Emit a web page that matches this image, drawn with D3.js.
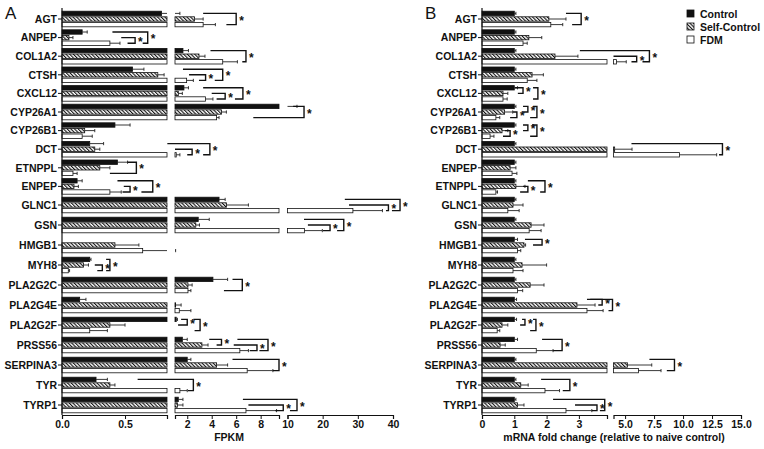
<!DOCTYPE html>
<html><head><meta charset="utf-8">
<script src="https://cdn.jsdelivr.net/npm/d3@7"></script>
<style>body{margin:0;background:#fff} text{font-family:"Liberation Sans",Arial,sans-serif}</style>
</head><body><svg id="c" width="764" height="449"></svg>
<script>
const seriesNames = ["Control", "Self-Control", "FDM"];

// ---- Panel A (FPKM) ----
const genesA = ["AGT","ANPEP","COL1A2","CTSH","CXCL12","CYP26A1","CYP26B1","DCT","ETNPPL","ENPEP","GLNC1","GSN","HMGB1","MYH8","PLA2G2C","PLA2G4E","PLA2G2F","PRSS56","SERPINA3","TYR","TYRP1"];
const controlA    = [0.79,0.16,1.65,0.56,1.73,9.8,0.42,0.22,0.44,0.12,4.6,2.9,0,0.22,4.1,0.14,1.1,1.6,2.0,0.27,1.27];
const controlErrA = [1.4,0.2,2.1,0.65,2.1,12.7,0.54,0.33,0.52,0.16,5.1,3.8,0,0.23,5.3,0.19,1.2,2.0,2.3,0.36,1.65];
const selfA       = [2.6,0.055,2.96,0.76,1.27,4.8,0.18,0.26,0.30,0.095,5.2,2.7,0.42,0.17,2.06,1.05,0.38,3.2,4.4,0.38,1.2];
const selfErrA    = [3.3,0.087,3.45,0.81,1.6,5.2,0.26,0.30,0.38,0.13,7.0,3.0,0.61,0.21,2.4,1.5,0.5,3.7,5.3,0.42,1.65];
const fdmA        = [3.3,0.38,4.9,1.95,3.5,4.4,0.16,1.1,0.087,0.38,28.6,14.8,0.64,0.05,2.06,1.35,0.22,6.3,6.9,1.4,6.8];
const fdmErrA     = [4.3,0.46,6.1,2.5,4.1,4.6,0.24,1.4,0.12,0.47,37,19.9,1.05,0.06,2.3,2.3,0.36,7.0,9.0,2.0,9.3];
// [gene, seriesFrom, seriesTo, armFrom, armTo, bracketValue]
const bracketsA = [
  ["AGT",0,2,3.3,5.2,6.0],
  ["ANPEP",1,2,0.47,0.52,0.58],["ANPEP",0,2,0.40,0.64,0.68],
  ["COL1A2",0,2,3.9,6.5,6.8],
  ["CTSH",1,2,2.15,2.96,3.5],["CTSH",0,2,1.65,4.25,4.9],
  ["CXCL12",1,2,4.0,4.4,5.1],["CXCL12",0,2,3.3,5.9,6.55],
  ["CYP26A1",0,2,11.6,7.4,14.7],
  ["DCT",1,2,1.0,2.0,2.4],["DCT",0,2,0.84,3.3,3.85],
  ["ETNPPL",0,2,0.52,0.38,0.59],
  ["ENPEP",0,2,0.44,0.63,0.72],["ENPEP",1,2,0.49,0.48,0.54],
  ["GLNC1",1,2,27.5,38,38.7],["GLNC1",0,2,26.3,39.7,42],
  ["GSN",0,2,14.7,24.1,26],["GSN",1,2,15.8,20.1,22.1],
  ["MYH8",1,2,0.26,0.28,0.32],["MYH8",0,2,0.35,0.35,0.38],
  ["PLA2G2C",0,2,5.7,5.0,6.5],
  ["PLA2G2F",0,1,1.5,1.25,2.0],["PLA2G2F",0,2,2.5,2.6,3.05],
  ["PRSS56",0,1,3.8,4.4,4.8],["PRSS56",0,2,6.1,7.9,8.6],["PRSS56",1,2,5.8,7.1,7.7],
  ["SERPINA3",0,2,5.7,9.0,9.5],
  ["TYR",0,2,0.6,2.06,2.5],
  ["TYRP1",0,2,6.55,10.7,12.7],["TYRP1",1,2,7.0,9.2,9.75]
];
const ticksA1 = [0, 0.5], ticksA2 = [2, 4, 6, 8], ticksA3 = [10, 20, 30, 40];

// ---- Panel B (fold change) ----
const genesB = ["AGT","ANPEP","COL1A2","CTSH","CXCL12","CYP26A1","CYP26B1","DCT","ENPEP","ETNPPL","GLNC1","GSN","HMGB1","MYH8","PLA2G2C","PLA2G4E","PLA2G2F","PRSS56","SERPINA3","TYR","TYRP1"];
const controlB    = [1,1,1,1,1,1,1,1,1,1,1,1,1,1,1,1,1,1,1,1,1];
const controlErrB = [1.05,1.05,1.05,1.05,1.1,1.05,1.05,1.05,1.05,1.05,1.05,1.05,1.1,1.05,1.05,1.07,1.07,1.1,1.05,1.05,1.05];
const selfB       = [2.07,1.45,2.26,1.55,0.65,0.7,0.62,4.1,0.87,1.05,0.96,1.52,1.3,1.24,1.49,2.94,0.62,0.56,5.2,1.2,1.1];
const selfErrB    = [2.6,1.85,2.97,1.9,0.8,0.95,0.8,5.6,1.05,1.33,1.27,1.92,1.35,2.0,1.92,3.5,0.8,0.72,7.3,1.43,1.3];
const fdmB        = [2.13,1.27,4.26,1.4,0.65,0.43,0.25,9.7,0.93,0.43,0.8,1.46,1.1,0.96,1.1,3.25,0.47,1.68,6.15,1.95,2.6];
const fdmErrB     = [2.5,1.4,5.1,1.7,0.78,0.55,0.37,12.9,1.08,0.48,1.15,1.83,1.2,1.27,1.26,3.75,0.55,2.2,8.1,2.4,3.4];
const bracketsB = [
  ["AGT",0,2,2.6,2.79,3.07],
  ["COL1A2",0,2,3.03,6.5,7.1],["COL1A2",1,2,4.0,5.55,6.0],
  ["CXCL12",0,1,1.02,1.11,1.27],["CXCL12",0,2,1.58,1.58,1.73],
  ["CYP26A1",0,1,1.27,1.27,1.42],["CYP26A1",1,2,0.96,0.87,1.08],["CYP26A1",0,2,1.58,1.49,1.7],
  ["CYP26B1",0,1,1.27,1.27,1.42],["CYP26B1",1,2,0.71,0.65,0.87],["CYP26B1",0,2,1.55,1.49,1.7],
  ["DCT",0,2,5.55,13.1,13.4],
  ["ETNPPL",1,2,1.27,1.18,1.42],["ETNPPL",0,2,1.42,1.8,1.95],
  ["HMGB1",0,1,1.33,1.58,1.86],
  ["PLA2G4E",0,1,3.25,3.6,3.72],["PLA2G4E",0,2,3.35,3.9,3.98],
  ["PLA2G2F",0,1,1.24,1.18,1.33],["PLA2G2F",0,2,1.58,1.49,1.67],
  ["PRSS56",0,2,1.86,2.2,2.48],
  ["SERPINA3",0,2,7.1,8.6,9.26],
  ["TYR",0,2,1.83,2.5,2.72],
  ["TYRP1",0,2,2.2,3.65,3.8],["TYRP1",1,2,2.88,3.4,3.56]
];
const ticksB1 = [0, 1, 2, 3], ticksB2 = [5, 7.5, 10, 12.5, 15];

// ---------------- drawing ----------------
const svg = d3.select("#c");
const defs = svg.append("defs");
const pat = defs.append("pattern").attr("id","hatch").attr("patternUnits","userSpaceOnUse")
  .attr("width",2.6).attr("height",2.6).attr("patternTransform","rotate(-45)");
pat.append("rect").attr("width",2.6).attr("height",2.6).attr("fill","#fff");
pat.append("rect").attr("width",1.1).attr("height",2.6).attr("fill","#111");

const fills = ["#111","url(#hatch)","#fff"];
const AXIS_Y = 415;
const barOff = [-5.6, 0, 5.6], barH = 4.4;
const rowY = d3.scaleLinear().domain([0,10,20]).range([19,205,405]);

function drawPanel(cfg){
  const g = svg.append("g");
  const yp = d3.scalePoint().domain(cfg.genes).range([0, cfg.genes.length-1]);
  const yc = gene => rowY(yp(gene));
  const x = cfg.x;
  const segs = cfg.segs;
  const vals = cfg.vals, errs = cfg.errs;

  cfg.genes.forEach((gene, i) => {
    for (let s = 0; s < 3; s++) {
      const v = vals[s][i], e = errs[s][i];
      const y = yc(gene) + barOff[s];
      segs.forEach(([d0, d1]) => {
        if (v > d0) {
          g.append("rect").attr("x", x(d0)).attr("y", y - barH/2)
            .attr("width", Math.max(0.5, x(Math.min(v, d1)) - x(d0))).attr("height", barH)
            .attr("fill", fills[s]).attr("stroke", "#111").attr("stroke-width", 0.8);
        }
      });
      segs.forEach(([d0, d1]) => {
        const lo = Math.max(v, d0), hi = Math.min(e, d1);
        if (hi > lo) g.append("line").attr("x1", x(lo)).attr("x2", x(hi)).attr("y1", y).attr("y2", y)
          .attr("stroke", "#222").attr("stroke-width", 0.9);
      });
      if (e > v && segs.some(([d0, d1]) => e >= d0 && e <= d1)) {
        g.append("line").attr("x1", x(e)).attr("x2", x(e)).attr("y1", y - 1.6).attr("y2", y + 1.6)
          .attr("stroke", "#222").attr("stroke-width", 0.9);
      }
    }
  });

  cfg.brackets.forEach(([gene, a, b, armA, armB, v]) => {
    const ya = yc(gene) + barOff[a], yb = yc(gene) + barOff[b];
    g.append("path").attr("d", `M${x(armA)},${ya}H${x(v)}V${yb}H${x(armB)}`)
      .attr("fill","none").attr("stroke","#111").attr("stroke-width",1.4);
    g.append("text").attr("x", x(v) + 3).attr("y", (ya + yb)/2 + 5.5).text("*")
      .attr("font-size", 12).attr("font-weight","bold").attr("fill","#111");
  });

  g.append("line").attr("x1", cfg.axisX).attr("x2", cfg.axisX).attr("y1", 8).attr("y2", AXIS_Y)
    .attr("stroke","#111").attr("stroke-width",1.2);
  cfg.genes.forEach(gene => {
    g.append("line").attr("x1", cfg.axisX - 4).attr("x2", cfg.axisX).attr("y1", yc(gene)).attr("y2", yc(gene))
      .attr("stroke","#111").attr("stroke-width",1);
    g.append("text").attr("x", cfg.axisX - 5).attr("y", yc(gene)).attr("dy","0.36em")
      .attr("text-anchor","end").attr("font-size",10.5).attr("font-weight","bold").attr("fill","#111").text(gene);
  });

  cfg.axes.forEach(([seg, tv, fmt]) => {
    const sc = d3.scaleLinear().domain(seg).range([x(seg[0]), x(seg[1])]);
    const ax = d3.axisBottom(sc).tickValues(tv).tickFormat(fmt).tickSize(4).tickSizeOuter(4).tickPadding(2);
    const ga = g.append("g").attr("transform", `translate(0,${AXIS_Y})`).call(ax);
    ga.select(".domain").attr("stroke","#111").attr("stroke-width",1.2);
    ga.selectAll(".tick line").attr("stroke","#111").attr("stroke-width",1);
    ga.selectAll("text").attr("font-size",10.5).attr("font-weight","bold").attr("fill","#111")
      .style("font-family",'"Liberation Sans",Arial,sans-serif');
  });

  g.append("text").attr("x", cfg.titleX).attr("y", 441).attr("text-anchor","middle")
    .attr("font-size",10.5).attr("font-weight","bold").attr("fill","#111").text(cfg.title);
  g.append("text").attr("x", cfg.letterX).attr("y", 19).attr("font-size",17).attr("fill","#111").text(cfg.letter);
}

const xA = d3.scaleLinear().domain([0, 0.833, 1, 9.5, 10, 40]).range([62, 167, 175, 279, 287.5, 393]);
drawPanel({
  genes: genesA, vals: [controlA, selfA, fdmA], errs: [controlErrA, selfErrA, fdmErrA],
  x: xA, segs: [[0,0.833],[1,9.5],[10,40]], axisX: 62, brackets: bracketsA,
  axes: [[[0,0.833], ticksA1, d3.format(".1f")], [[1,9.5], ticksA2, d3.format("d")], [[10,40], ticksA3, d3.format("d")]],
  title: "FPKM", titleX: 229, letter: "A", letterX: 5
});

const xB = d3.scaleLinear().domain([0, 3.87, 4, 15]).range([482, 607, 613.5, 741]);
drawPanel({
  genes: genesB, vals: [controlB, selfB, fdmB], errs: [controlErrB, selfErrB, fdmErrB],
  x: xB, segs: [[0,3.87],[4,15]], axisX: 482, brackets: bracketsB,
  axes: [[[0,3.87], ticksB1, d3.format("d")], [[4,15], ticksB2, d3.format(".1f")]],
  title: "mRNA fold change (relative to naive control)", titleX: 614, letter: "B", letterX: 425
});

const lg = svg.append("g").attr("transform","translate(687,10)");
seriesNames.forEach((n, i) => {
  lg.append("rect").attr("x",0).attr("y", i*13).attr("width",7).attr("height",7)
    .attr("fill", fills[i]).attr("stroke","#111").attr("stroke-width",0.8);
  lg.append("text").attr("x",13).attr("y", i*13 + 7.5).attr("font-size",10.5).attr("font-weight","bold")
    .attr("fill","#111").text(n);
});
</script></body></html>
